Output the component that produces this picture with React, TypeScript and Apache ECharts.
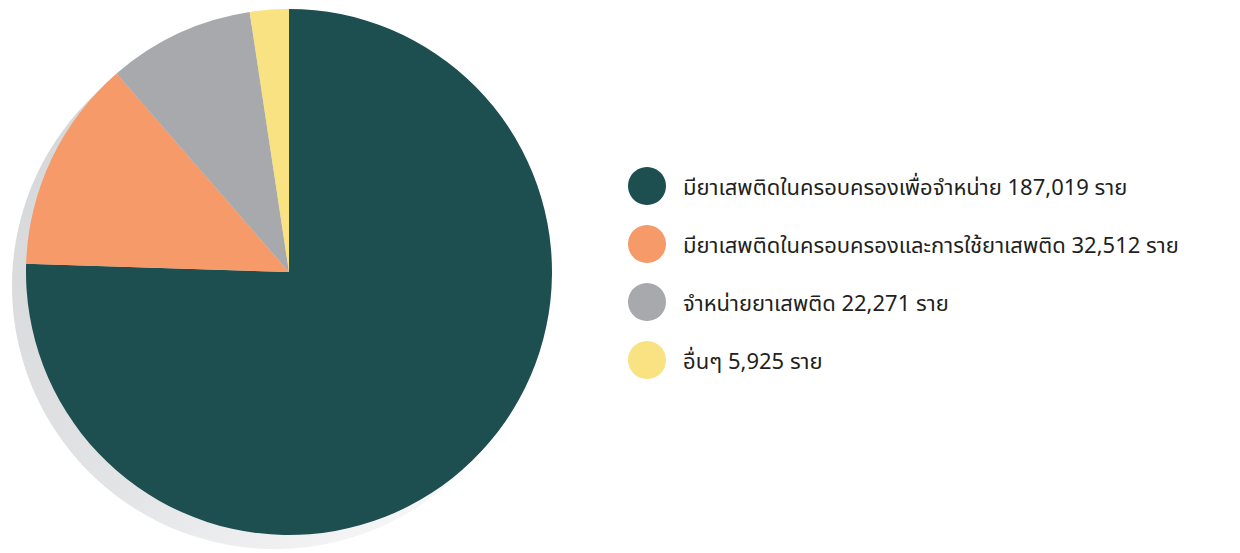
import React, { useEffect, useRef } from "react";
import * as echarts from "echarts";

const categories = [
  "มียาเสพติดในครอบครองเพื่อจำหน่าย",
  "มียาเสพติดในครอบครองและการใช้ยาเสพติด",
  "จำหน่ายยาเสพติด",
  "อื่นๆ",
];
const values = [187019, 32512, 22271, 5925];
const colors = ["#1e4f50", "#f59a68", "#a8a9ad", "#f9e282"];
const unit = "ราย";

export default function App() {
  const ref = useRef<HTMLDivElement>(null);
  useEffect(() => {
    document.body.style.margin = "0";
    const chart = echarts.init(ref.current!, null, { renderer: "svg" });
    const fmt = (v: number) => v.toLocaleString("en-US");
    chart.setOption({
      animation: false,
      backgroundColor: "#ffffff",
      legend: {
        orient: "vertical",
        left: 628,
        top: 167,
        padding: 0,
        icon: "circle",
        itemWidth: 38,
        itemHeight: 38,
        itemGap: 20,
        selectedMode: false,
        data: categories,
        formatter: (name: string) => {
          const i = categories.indexOf(name);
          return `${name} ${fmt(values[i])} ${unit}`;
        },
        textStyle: {
          fontSize: 22,
          color: "#231f20",
          fontFamily: "'Noto Sans', 'Noto Sans Thai', 'DejaVu Sans', sans-serif",
          padding: [0, 0, 0, 12],
        },
      },
      series: [
        {
          type: "pie",
          silent: true,
          center: [275, 286],
          radius: 263,
          label: { show: false },
          labelLine: { show: false },
          data: [
            {
              value: 1,
              name: "shadow",
              itemStyle: {
                color: new echarts.graphic.LinearGradient(0, 0, 1, 1, [
                  { offset: 0, color: "#d3d4d6" },
                  { offset: 0.55, color: "#e3e4e6" },
                  { offset: 0.85, color: "#f6f6f7" },
                  { offset: 1, color: "#ffffff" },
                ]),
              },
            },
          ],
        },
        {
          type: "pie",
          center: [289, 272],
          radius: 263,
          startAngle: 90,
          clockwise: true,
          label: { show: false },
          labelLine: { show: false },
          itemStyle: { borderWidth: 0 },
          emphasis: { disabled: true },
          data: categories.map((c, i) => ({
            name: c,
            value: values[i],
            itemStyle: { color: colors[i] },
          })),
        },
      ],
    });
    return () => chart.dispose();
  }, []);
  return <div ref={ref} style={{ width: 1240, height: 553 }} />;
}
